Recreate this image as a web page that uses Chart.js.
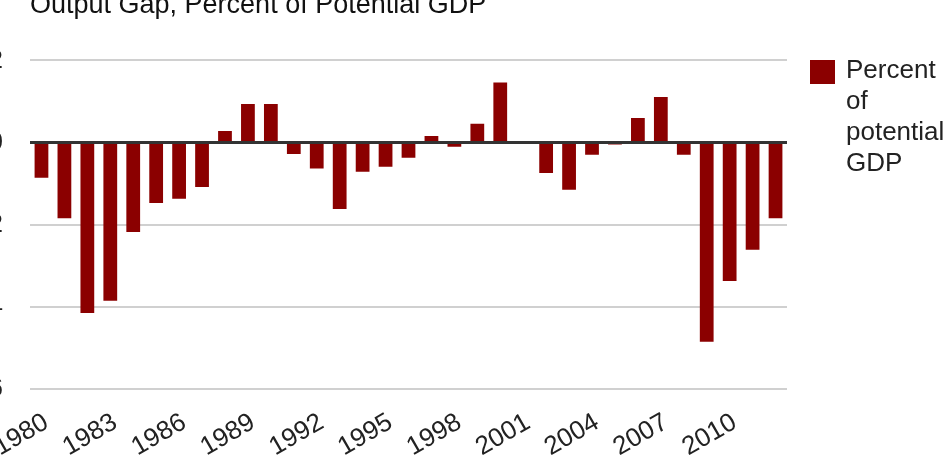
<!DOCTYPE html>
<html>
<head>
<meta charset="utf-8">
<script src="https://cdn.jsdelivr.net/npm/chart.js@4.4.0/dist/chart.umd.min.js"></script>
<style>
  html, body { margin: 0; padding: 0; background: #fff; overflow: hidden; }
  #wrap { position: relative; width: 948px; height: 475px; overflow: hidden; }
  #chart { position: absolute; left: -40px; top: -30px; }
  #legend { position: absolute; left: 810px; top: 60px; font-family: "Liberation Sans", Arial, sans-serif; font-size: 26px; line-height: 31px; color: #222; }
  #legend .swatch { position: absolute; left: 0; top: 0; width: 25px; height: 24px; }
  #legend .txt { position: absolute; left: 36px; top: -6px; width: 110px; }
</style>
</head>
<body>
<div id="wrap">
  <canvas id="chart" width="1000" height="520"></canvas>
  <div id="legend"></div>
</div>
<script>
// data
const years = ["1980","1981","1982","1983","1984","1985","1986","1987","1988","1989",
  "1990","1991","1992","1993","1994","1995","1996","1997","1998","1999",
  "2000","2001","2002","2003","2004","2005","2006","2007","2008","2009",
  "2010","2011","2012"];
const outputGap = [-0.86, -1.84, -4.15, -3.85, -2.18, -1.47, -1.37, -1.08, 0.28, 0.94,
  0.94, -0.28, -0.63, -1.62, -0.71, -0.59, -0.37, 0.16, -0.10, 0.46,
  1.46, 0.0, -0.74, -1.15, -0.30, -0.05, 0.60, 1.11, -0.30, -4.85,
  -3.37, -2.61, -1.84];
const shownYears = ["1980","1983","1986","1989","1992","1995","1998","2001","2004","2007","2010"];
const yTicks = [2, 0, -2, -4, -6];

const barColor = "#8b0000";
const fontFamily = '"Liberation Sans", Arial, sans-serif';

const ctx = document.getElementById("chart").getContext("2d");
const chart = new Chart(ctx, {
  type: "bar",
  data: {
    labels: years,
    datasets: [{
      label: "Percent of potential GDP",
      data: outputGap,
      backgroundColor: barColor,
      borderWidth: 0,
      barPercentage: 0.6,
      categoryPercentage: 1.0,
    }],
  },
  options: {
    responsive: false,
    animation: false,
    devicePixelRatio: 1,
    layout: { padding: { left: 0, top: 0, right: 173, bottom: 0 } },
    plugins: {
      legend: { display: false },
      tooltip: { enabled: false },
      title: {
        display: true,
        text: "Output Gap, Percent of Potential GDP",
        align: "start",
        fullSize: false,
        color: "#111",
        font: { family: fontFamily, size: 27, weight: "normal" },
        padding: { top: 19, bottom: 39 },
      },
    },
    scales: {
      x: {
        grid: { display: false },
        border: { display: false },
        afterFit: (scale) => { scale.height = 101; },
        ticks: {
          autoSkip: false,
          minRotation: 30,
          maxRotation: 30,
          padding: 10,
          labelOffset: 5,
          color: "#222",
          font: { family: fontFamily, size: 26 },
          callback: function (value, index) {
            const lbl = years[index];
            return shownYears.includes(lbl) ? lbl : "";
          },
        },
      },
      y: {
        min: -6,
        max: 2,
        afterBuildTicks: (scale) => { scale.ticks = yTicks.map((v) => ({ value: v })); },
        afterFit: (scale) => { scale.width = 70; },
        border: { display: false },
        grid: {
          drawTicks: false,
          color: (c) => (c.tick && c.tick.value === 0 ? "#333" : "#d0d0d0"),
          lineWidth: (c) => (c.tick && c.tick.value === 0 ? 3 : 2),
        },
        ticks: {
          padding: 27,
          color: "#222",
          font: { family: fontFamily, size: 26 },
        },
      },
    },
  },
});

// legend (wrapped text like the original)
const ds = chart.data.datasets[0];
const legend = document.getElementById("legend");
legend.innerHTML = '<span class="swatch" style="background:' + ds.backgroundColor + '"></span>' +
  '<span class="txt">' + ds.label + '</span>';
</script>
</body>
</html>
